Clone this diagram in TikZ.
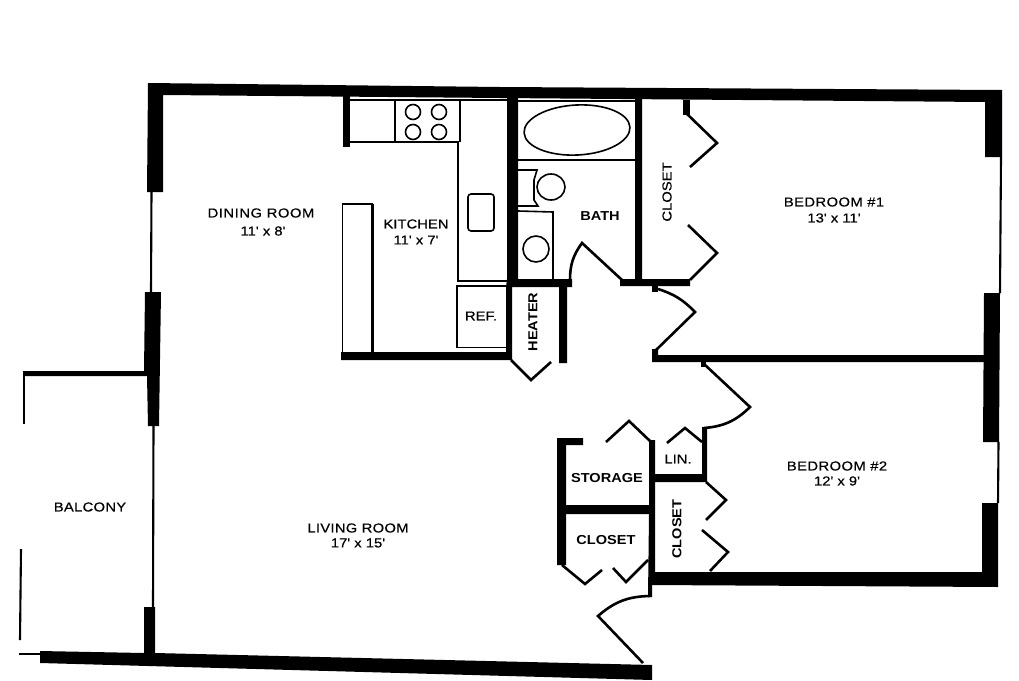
\documentclass[tikz,border=0pt]{standalone}
\usepackage{fontspec}
\newfontfamily\planfont[FakeStretch=1.14,FakeBold=0.35]{Liberation Sans}
\newfontfamily\planbold[FakeStretch=1.12]{Liberation Sans}
\tikzset{
  wall/.style={fill=black,draw=none},
  door/.style={draw=black,line width=2.6pt,line join=miter,fill=none},
  thin/.style={draw=black,line width=2.1pt,fill=none},
  fixture/.style={draw=black,line width=1.6pt,fill=none},
  lbl/.style={font=\planfont\fontsize{13}{13}\selectfont,inner sep=0pt,text=black},
  blbl/.style={font=\planbold\bfseries\fontsize{13}{13}\selectfont,inner sep=0pt,text=black},
}
\begin{document}
\begin{tikzpicture}[x=1pt,y=-1pt]
\useasboundingbox (0,0) rectangle (1019,680);
\fill[white] (0,0) rectangle (1019,680);
% outer walls
\fill[wall] (148,83) -- (500,87) -- (1002,90) -- (1002,157) -- (985,157) -- (985,102) -- (500,98) -- (163,95) -- (163,192) -- (147,192) -- cycle;
\fill[wall] (145,292) -- (161,292) -- (159,426) -- (148,426) -- (147,376) -- (23,376) -- (23,371) -- (144,371) -- cycle;
\fill[wall] (984,293) -- (1000,293) -- (999,442) -- (983,442) -- cycle;
\fill[wall] (982,503) -- (998,503) -- (998,587) -- (650,585) -- (650,572) -- (982,572) -- cycle;
\fill[wall] (144,607) -- (155,607) -- (155,653) -- (652,665) -- (652,680) -- (40,663) -- (40,651) -- (144,653) -- cycle;
\draw[thin] (151.5,192) -- (151,292);
\draw[thin] (153.5,426) -- (153,607);
\draw[thin] (1001,157) -- (1000,293);
\draw[thin] (998.5,442) -- (998,503);
\draw[thin] (24,376) -- (24,424);
\draw[thin] (21,549) -- (20,640);
\draw[thin] (19,654) -- (40,654);
% interior walls
\fill[wall] (343,96) -- (350,96) -- (350,147) -- (343,147) -- cycle;
\fill[wall] (507,98) -- (518,98) -- (518,279) -- (572,279) -- (572,287) -- (567,287) -- (567,363) -- (559,363) -- (559,287) -- (512,287) -- (512,360) -- (341,360) -- (341,352) -- (506,352) -- (506,287) -- (507,279) -- cycle;
\fill[wall] (635,98) -- (642,98) -- (642,279) -- (690,279) -- (690,286) -- (620,286) -- (620,279) -- (635,279) -- cycle;
\fill[wall] (652,286) -- (658,286) -- (658,292) -- (652,292) -- cycle;
\fill[wall] (652,349) -- (658,349) -- (658,355) -- (985,355) -- (985,362) -- (652,362) -- cycle;
\fill[wall] (702,427) -- (707,427) -- (707,482) -- (655,482) -- (655,572) -- (652,572) -- (652,597) -- (648,597) -- (649,514) -- (566,514) -- (566,565) -- (557,565) -- (557,438) -- (583,438) -- (583,445) -- (566,445) -- (566,505) -- (649,505) -- (649,440) -- (655,440) -- (655,474) -- (702,474) -- cycle;
\fill[wall] (683,100) -- (690,100) -- (690,115) -- (683,115) -- cycle;
\fill[wall] (701,362) -- (706,362) -- (706,367) -- (701,367) -- cycle;
% kitchen fixtures
\draw[fixture] (350,142) -- (458,142) -- (458,281) -- (507,281);
\draw[fixture] (395,100) -- (395,142);
\draw[fixture] (460,100) -- (460,142);
\draw[fixture] (350,100) -- (507,100);
\foreach \cx/\cy in {413/112,439/112,413/132,439/132}
  \draw[fixture] (\cx,\cy) circle (7.5);
\draw[fixture,rounded corners=3pt] (468,194) rectangle (494,231);
\draw[fixture] (342.5,352) -- (342.5,204);
\draw[draw=black,line width=2.8pt] (342,204) -- (373,204);
\draw[draw=black,line width=2.2pt] (372.5,204) -- (372.5,352);
\draw[fixture] (457,348) -- (457,286) -- (506,286);
\draw[fixture] (457,347.5) -- (506,347.5);
% bath fixtures
\draw[draw=black,line width=2.6pt] (518,160) -- (636,160);
\draw[fixture] (518,101) -- (636,101);
\draw[fixture,rotate around={3:(577,130)}] (577,130) ellipse (53 and 25);
\draw[fixture] (518,170) -- (537,170) -- (534,180) -- (534,200) -- (538,206) -- (518,206);
\draw[fixture] (551,187) ellipse (14 and 13);
\draw[fixture] (518,211) -- (553,212) -- (553,279);
\draw[fixture] (536,249) circle (13);
% doors
\draw[door] (570,280) to[bend left=18] (582,243) -- (622,280);
\draw[door] (686,113) -- (717,143) -- (690,167);
\draw[door] (690,280) -- (717,253) -- (688,225);
\draw[door] (658,289) to[bend left=14] (695,312) -- (655,351);
\draw[door] (704,364) -- (750,407) to[bend left=20] (704,428);
\draw[door] (511,360) -- (531,380) -- (551,362);
\draw[door] (667,443) -- (685,428) -- (702,442);
\draw[door] (606,442) -- (629,421) -- (650,441);
\draw[door] (562,565) -- (585,584) -- (602,570);
\draw[door] (613,568) -- (626,582) -- (648,560);
\draw[door] (706,482) -- (726,500) -- (706,520);
\draw[door] (702,530) -- (728,552) -- (710,571);
\draw[door] (650,596) to[bend right=20] (598,616) -- (643,663);
% labels
\node[lbl] (dining) at (261,213) {\addfontfeature{LetterSpace=4}DINING ROOM};
\node[lbl] (diningsize) at (263,231) {11' x 8'};
\node[lbl] (kitchen) at (416,224) {KITCHEN};
\node[lbl] (kitchensize) at (416,240) {11' x 7'};
\node[blbl] (bath) at (600,216) {BATH};
\node[lbl,rotate=90] (closetA) at (667,192) {CLOSET};
\node[lbl] (bedA) at (834,202) {\addfontfeature{LetterSpace=3}BEDROOM \#1};
\node[lbl] (bedAsize) at (834,218) {13' x 11'};
\node[lbl] (ref) at (481,316) {REF.};
\node[blbl,rotate=90] (heater) at (533,322) {HEATER};
\node[lbl] (bedB) at (837,466) {\addfontfeature{LetterSpace=3}BEDROOM \#2};
\node[lbl] (bedBsize) at (837,481) {12' x 9'};
\node[lbl] (lin) at (678,459) {LIN.};
\node[blbl] (storage) at (607,478) {STORAGE};
\node[blbl] (closetB) at (606,540) {CLOSET};
\node[blbl,rotate=90] (closetC) at (677,529) {CLOSET};
\node[lbl] (balcony) at (90,507) {\addfontfeature{LetterSpace=2}BALCONY};
\node[lbl] (living) at (358,528) {\addfontfeature{LetterSpace=2}LIVING ROOM};
\node[lbl] (livingsize) at (358,543) {17' x 15'};
\end{tikzpicture}
\end{document}
